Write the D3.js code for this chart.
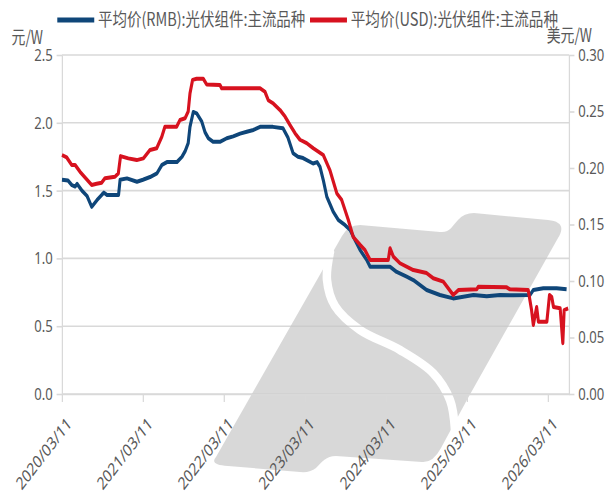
<!DOCTYPE html>
<html lang="zh">
<head>
<meta charset="UTF-8">
<title>光伏组件 主流品种 平均价</title>
<script src="https://cdn.jsdelivr.net/npm/d3@7"></script>
<style>
  body { margin: 0; background: #fff; }
</style>
</head>
<body>
<script>
// 人民币均价 元/W
const rmbDates = ["2020-03-11","2020-04-07","2020-04-25","2020-05-09","2020-05-18","2020-06-09","2020-07-02","2020-07-23","2020-08-16","2020-09-07",
  "2020-09-16","2020-09-30","2020-11-21","2020-11-28","2020-12-29","2021-02-12","2021-03-11","2021-04-12","2021-05-13","2021-06-05",
  "2021-06-27","2021-08-11","2021-09-03","2021-09-17","2021-10-01","2021-10-09","2021-10-24","2021-11-08","2021-12-01","2021-12-16",
  "2021-12-31","2022-01-21","2022-02-21","2022-03-24","2022-04-22","2022-05-23","2022-06-22","2022-07-22","2022-08-21","2022-10-18",
  "2022-12-02","2022-12-25","2023-01-17","2023-02-08","2023-03-03","2023-04-17","2023-05-05","2023-05-18","2023-06-02","2023-06-18",
  "2023-07-17","2023-08-09","2023-09-08","2023-10-01","2023-10-23","2023-11-15","2023-12-15","2023-12-30","2024-03-29","2024-04-28",
  "2024-06-12","2024-07-12","2024-09-10","2024-11-09","2025-01-08","2025-02-22","2025-04-09","2025-06-08","2025-08-07","2025-10-05",
  "2025-12-20","2026-01-04","2026-02-18","2026-04-19","2026-06-03"]
const rmbValues = [1.58,1.575,1.54,1.53,1.55,1.50,1.46,1.38,1.43,1.47,
  1.485,1.467,1.467,1.58,1.59,1.565,1.58,1.60,1.627,1.69,
  1.71,1.71,1.75,1.79,1.85,1.97,2.08,2.07,2.01,1.93,
  1.886,1.86,1.86,1.886,1.90,1.92,1.934,1.947,1.97,1.97,
  1.96,1.89,1.775,1.75,1.74,1.70,1.71,1.676,1.578,1.455,
  1.344,1.283,1.246,1.21,1.136,1.062,0.988,0.939,0.939,0.90,
  0.865,0.84,0.767,0.73,0.705,0.717,0.73,0.72,0.73,0.728,
  0.73,0.767,0.78,0.78,0.772]

// 美元均价 美元/W
const usdDates = ["2020-03-11","2020-04-01","2020-04-24","2020-05-09","2020-05-31","2020-06-30","2020-07-23","2020-08-14","2020-09-06","2020-09-21",
  "2020-11-05","2020-11-20","2020-11-30","2021-01-04","2021-02-11","2021-03-13","2021-04-12","2021-05-12","2021-06-04","2021-06-18",
  "2021-08-10","2021-08-25","2021-09-17","2021-10-01","2021-10-09","2021-10-21","2021-11-08","2021-12-08","2021-12-23","2022-02-21",
  "2022-03-01","2022-08-21","2022-09-12","2022-09-27","2022-10-20","2022-11-19","2022-12-12","2023-01-03","2023-01-26","2023-02-17",
  "2023-03-19","2023-04-18","2023-06-02","2023-07-02","2023-08-02","2023-08-24","2023-09-23","2023-10-15","2023-11-15","2023-12-07",
  "2023-12-30","2024-03-21","2024-03-29","2024-04-13","2024-05-13","2024-07-12","2024-09-10","2024-10-10","2024-11-24","2025-01-08",
  "2025-01-31","2025-04-24","2025-05-01","2025-09-06","2025-09-21","2025-12-12","2025-12-27","2026-01-04","2026-01-19","2026-01-27",
  "2026-03-06","2026-03-18","2026-03-28","2026-04-05","2026-05-05","2026-05-17","2026-05-23","2026-06-10"]
const usdValues = [0.2115,0.2094,0.2027,0.2027,0.1967,0.19,0.185,0.186,0.187,0.191,
  0.1923,0.1953,0.2105,0.2085,0.207,0.2085,0.216,0.2174,0.2277,0.2366,
  0.2366,0.2425,0.244,0.25,0.266,0.278,0.279,0.279,0.274,0.2735,
  0.2705,0.2705,0.2675,0.260,0.257,0.2513,0.2454,0.238,0.2307,0.225,
  0.222,0.2174,0.2115,0.198,0.1776,0.1717,0.154,0.139,0.132,0.1274,
  0.1186,0.1186,0.129,0.1215,0.1157,0.1097,0.107,0.1024,0.0994,0.0876,
  0.092,0.0926,0.095,0.0944,0.0926,0.092,0.0743,0.061,0.077,0.064,
  0.064,0.0876,0.086,0.077,0.0758,0.045,0.0743,0.0758]

const seriesNames = ["平均价(RMB):光伏组件:主流品种", "平均价(USD):光伏组件:主流品种"]
const seriesColors = ["#0f4679", "#d7121f"]
const leftTicks = [0, 0.5, 1.0, 1.5, 2.0, 2.5]
const rightTicks = [0, 0.05, 0.10, 0.15, 0.20, 0.25, 0.30]
const xTickLabels = ["2020/03/11","2021/03/11","2022/03/11","2023/03/11","2024/03/11","2025/03/11","2026/03/11"]

const parse = d3.timeParse("%Y-%m-%d")
const parseTick = d3.timeParse("%Y/%m/%d")

// 原图整体横向压缩，先按宽坐标画，再 scale 回来
const K = 0.77
const plotL = 80.5, plotR = 739, plotT = 55, plotB = 394
const FONT = "'Noto Sans', 'Noto Sans CJK SC', sans-serif"
const CJK = "'Noto Sans CJK SC', 'Noto Sans', sans-serif"

const x = d3.scaleTime()
    .domain([parse("2020-03-11"), parse("2026-06-14")])
    .range([plotL, plotR])
const yL = d3.scaleLinear().domain([0, 2.5]).range([plotB, plotT])
const yR = d3.scaleLinear().domain([0, 0.30]).range([plotB, plotT])

const svg = d3.select("body").append("svg")
    .attr("width", 606)
    .attr("height", 498)

const defs = svg.append("defs")

// 网格
const gridG = svg.append("g").attr("transform", `scale(${K},1)`)
gridG.selectAll("line")
    .data(leftTicks)
    .enter()
    .append("line")
    .attr("x1", plotL).attr("x2", plotR)
    .attr("y1", d => yL(d)).attr("y2", d => yL(d))
    .attr("stroke", "#d9d9d9")
    .attr("stroke-width", 1.6)

// 水印 (真实像素坐标)
const sCurve = d3.line().curve(d3.curveCatmullRom)([
    [330, 252], [327, 280], [335, 306], [360, 330], [400, 350], [433, 373], [450, 400], [455, 430]
])
const mask = defs.append("mask").attr("id", "wm-mask")
mask.append("rect").attr("width", 606).attr("height", 498).attr("fill", "#fff")
mask.append("path").attr("d", sCurve).attr("fill", "none")
    .attr("stroke", "#000").attr("stroke-width", 8.5).attr("stroke-linecap", "round")

svg.append("path")
    .attr("d", "M216,457 L342,236 Q348,225 360,225 L440,232 C450,233 452,226 458,220 " +
               "Q464,213 474,213 L548,220 Q568,222 558,238 L468,398 L441,448 Q433,463 422,462 " +
               "L336,456 C326,456 322,462 316,468 Q310,473 300,472 L228,466 Q209,465 216,457 Z")
    .attr("fill", "#c6c6c6")
    .attr("fill-opacity", 0.68)
    .attr("mask", "url(#wm-mask)")

const g = svg.append("g").attr("transform", `scale(${K},1)`)

// 坐标轴
function styleAxis(sel) {
    sel.select(".domain").attr("stroke", "#d9d9d9").attr("stroke-width", 1.6)
    sel.selectAll(".tick line").attr("stroke", "#d9d9d9").attr("stroke-width", 1.6)
    sel.selectAll("text").attr("fill", "#595959").attr("font-family", FONT)
}

const axL = g.append("g")
    .attr("transform", `translate(${plotL},0)`)
    .call(d3.axisLeft(yL).tickValues(leftTicks).tickFormat(d3.format(".1f")).tickSize(7).tickSizeOuter(0).tickPadding(5))
styleAxis(axL)
axL.selectAll("text").attr("font-size", 17)

const axR = g.append("g")
    .attr("transform", `translate(${plotR},0)`)
    .call(d3.axisRight(yR).tickValues(rightTicks).tickFormat(d3.format(".2f")).tickSize(7).tickSizeOuter(0).tickPadding(5))
styleAxis(axR)
axR.selectAll("text").attr("font-size", 17)

const axB = g.append("g")
    .attr("transform", `translate(0,${plotB})`)
    .call(d3.axisBottom(x).tickValues(xTickLabels.map(parseTick)).tickFormat(d3.timeFormat("%Y/%m/%d")).tickSize(8).tickSizeOuter(0))
styleAxis(axB)
axB.selectAll("text")
    .attr("font-size", 17.5)
    .attr("text-anchor", "end")
    .attr("x", 0).attr("y", 0).attr("dy", 0)
    .attr("transform", "translate(13,31) rotate(-45)")

// 折线
const rmb = rmbDates.map((d, i) => ({ date: parse(d), value: rmbValues[i] }))
const usd = usdDates.map((d, i) => ({ date: parse(d), value: usdValues[i] }))

const lineL = d3.line().x(d => x(d.date)).y(d => yL(d.value))
const lineR = d3.line().x(d => x(d.date)).y(d => yR(d.value))

g.append("path")
    .datum(rmb)
    .attr("d", lineL)
    .attr("fill", "none")
    .attr("stroke", seriesColors[0])
    .attr("stroke-width", 4)
    .attr("stroke-linejoin", "round")

g.append("path")
    .datum(usd)
    .attr("d", lineR)
    .attr("fill", "none")
    .attr("stroke", seriesColors[1])
    .attr("stroke-width", 4)
    .attr("stroke-linejoin", "round")

// 单位
g.append("text").text("元/W")
    .attr("x", 15).attr("y", 44)
    .attr("font-family", CJK).attr("font-size", 18).attr("fill", "#595959")
g.append("text").text("美元/W")
    .attr("x", 710).attr("y", 42)
    .attr("font-family", CJK).attr("font-size", 18).attr("fill", "#595959")

// 图例
const legendX = [74.4, 402.6]
const legend = g.selectAll(".legend")
    .data(seriesNames)
    .enter()
    .append("g")
    .attr("class", "legend")
    .attr("transform", (d, i) => `translate(${legendX[i]},20)`)
legend.append("line")
    .attr("x1", 0).attr("x2", 48)
    .attr("stroke", (d, i) => seriesColors[i])
    .attr("stroke-width", 5)
legend.append("text")
    .text(d => d)
    .attr("x", 53).attr("y", 6)
    .attr("font-family", CJK).attr("font-size", 18).attr("fill", "#595959")
    .attr("textLength", 269).attr("lengthAdjust", "spacingAndGlyphs")
</script>
</body>
</html>
